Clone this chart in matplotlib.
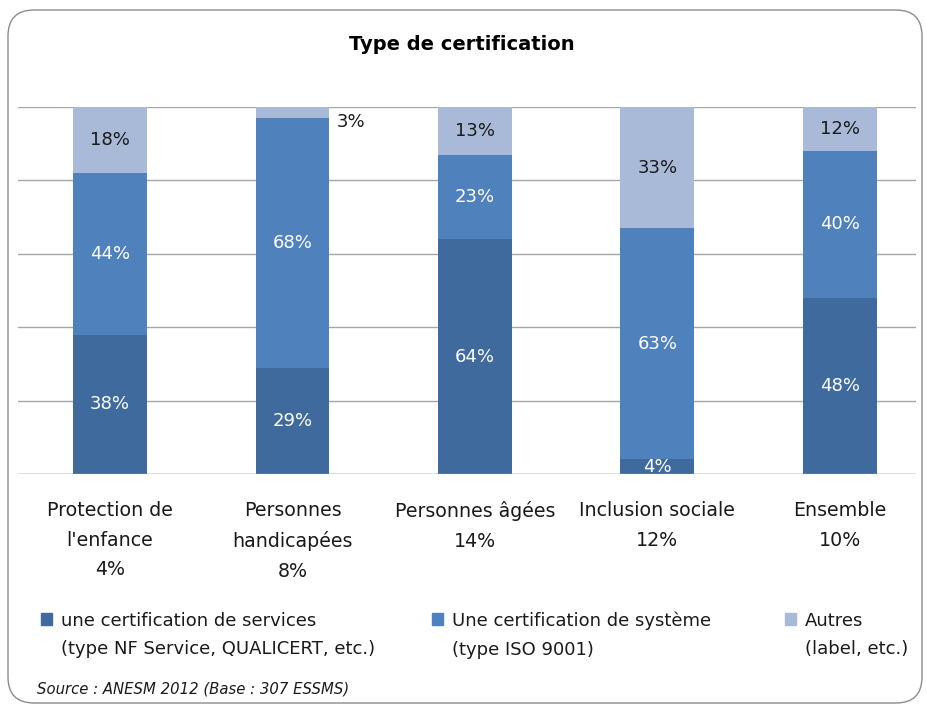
import matplotlib
matplotlib.use("Agg")
import matplotlib.pyplot as plt
from matplotlib.patches import FancyBboxPatch, Rectangle
import numpy as np

plt.rcParams['font.family'] = ['DejaVu Sans']

categories = ["Protection de\nl'enfance\n4%", "Personnes\nhandicapées\n8%",
              "Personnes âgées\n14%", "Inclusion sociale\n12%", "Ensemble\n10%"]
services = [38, 29, 64, 4, 48]
systeme = [44, 68, 23, 63, 40]
autres = [18, 3, 13, 33, 12]

series_names = ["une certification de services\n(type NF Service, QUALICERT, etc.)",
                "Une certification de système\n(type ISO 9001)",
                "Autres\n(label, etc.)"]
colors = ["#3F6A9D", "#4F81BD", "#A9B9D8"]

W, H = 926, 704
fig = plt.figure(figsize=(W / 100, H / 100), dpi=100)

# overlay in pixel units for frame, title, legend
bg = fig.add_axes([0, 0, 1, 1], zorder=0)
bg.set_xlim(0, W)
bg.set_ylim(H, 0)
bg.axis('off')
bg.add_patch(FancyBboxPatch((8, 10), 914, 693,
                            boxstyle="round,pad=0,rounding_size=26",
                            fill=False, edgecolor="#8C8C8C", linewidth=1.0))

ax = fig.add_axes([18 / W, 1 - 474 / H, (916 - 18) / W, (474 - 107) / H], zorder=1)
ax.patch.set_alpha(0)
x = np.arange(len(categories))
width = 0.405

ax.bar(x, services, width, color=colors[0], zorder=3)
ax.bar(x, systeme, width, bottom=services, color=colors[1], zorder=3)
bottom3 = [a + b for a, b in zip(services, systeme)]
ax.bar(x, autres, width, bottom=bottom3, color=colors[2], zorder=3)

ax.set_ylim(0, 100)
ax.set_xlim(-0.504, 4.417)
ax.set_yticks(range(0, 101, 20))
ax.yaxis.grid(True, color="#A6A6A6", linewidth=1.0, zorder=0)
ax.tick_params(axis='y', length=0, labelleft=False)
ax.set_xticks([])
for s in ax.spines.values():
    s.set_visible(False)
ax.axhline(0, color="#A6A6A6", linewidth=1.0, zorder=4)

for i in range(len(categories)):
    ax.text(x[i], services[i] / 2, f"{services[i]}%", ha='center', va='center',
            color='white', fontsize=13, zorder=5)
    ax.text(x[i], services[i] + systeme[i] / 2, f"{systeme[i]}%", ha='center',
            va='center', color='white', fontsize=13, zorder=5)
    if autres[i] < 5:
        ax.text(x[i] + width / 2 + 0.04, bottom3[i] + autres[i] / 2 - 2.5,
                f"{autres[i]}%", ha='left', va='center', color='#1A1A1A',
                fontsize=13, zorder=5)
    else:
        ax.text(x[i], bottom3[i] + autres[i] / 2, f"{autres[i]}%", ha='center',
                va='center', color='#1A1A1A', fontsize=13, zorder=5)

# category labels
for i, lab in enumerate(categories):
    ax.text(x[i], -7.4, lab, ha='center', va='top', fontsize=13.7,
            color='#1A1A1A', linespacing=1.7)

bg.text(462, 45, "Type de certification", ha='center', va='center',
        fontsize=14, fontweight='bold', color='#000000')

# legend
sq_x = [41, 432, 785]
for k in range(3):
    bg.add_patch(Rectangle((sq_x[k], 613), 11, 12, color=colors[k]))
    bg.text(sq_x[k] + 20, 612, series_names[k], ha='left', va='top',
            fontsize=13, color='#1A1A1A', linespacing=1.72)

bg.text(37, 689, "Source : ANESM 2012 (Base : 307 ESSMS)",
        ha='left', va='center', fontsize=10.7, style='italic', color='#1A1A1A')

fig.savefig("out.png", dpi=100)
